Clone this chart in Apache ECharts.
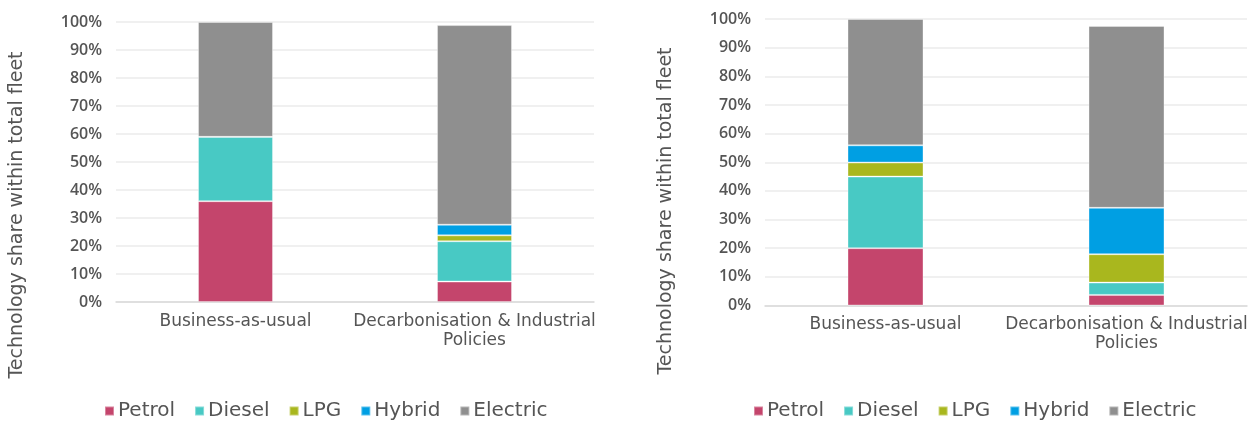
<!DOCTYPE html>
<html>
<head>
<meta charset="utf-8">
<script src="https://cdn.jsdelivr.net/npm/echarts@6/dist/echarts.min.js"></script>
<style>
  html, body { margin: 0; padding: 0; background: #ffffff; }
  #chart { width: 1252px; height: 421px; }
</style>
</head>
<body>
<div id="chart"></div>
<script>
// Fleet technology shares (% of total fleet) under two scenarios, shown for two periods
const categories = ['Business-as-usual', 'Decarbonisation & Industrial\nPolicies'];
const technologies = ['Petrol', 'Diesel', 'LPG', 'Hybrid', 'Electric'];
const colors = ['#C4456C', '#48C9C4', '#A9B71E', '#009FE3', '#8F8F8F'];
const yTicks = [0, 10, 20, 30, 40, 50, 60, 70, 80, 90, 100];

// Left panel values per technology: [Business-as-usual, Decarbonisation & Industrial Policies]
const leftPetrol = [36, 7.3];
const leftDiesel = [23, 14.4];
const leftLPG = [0, 2.1];
const leftHybrid = [0, 3.8];
const leftElectric = [41, 71.3];

// Right panel values per technology
const rightPetrol = [20, 3.7];
const rightDiesel = [25, 4.3];
const rightLPG = [4.9, 9.9];
const rightHybrid = [6, 16.2];
const rightElectric = [44.1, 63.5];

const leftValues = [leftPetrol, leftDiesel, leftLPG, leftHybrid, leftElectric];
const rightValues = [rightPetrol, rightDiesel, rightLPG, rightHybrid, rightElectric];

const FONT = '"DejaVu Sans", sans-serif';
const TICK_FONT = '"Open Sans", sans-serif';
const TEXT = '#555555';

function xAxisFor(gridIndex) {
  return {
    type: 'category',
    gridIndex: gridIndex,
    data: categories,
    axisTick: { show: false },
    axisLine: { lineStyle: { color: '#d9d9d9', width: 1.5 } },
    axisLabel: {
      color: TEXT, fontFamily: FONT, fontSize: 17,
      lineHeight: 19, margin: 10, interval: 0
    }
  };
}

function yAxisFor(gridIndex) {
  return {
    type: 'value',
    gridIndex: gridIndex,
    min: yTicks[0],
    max: yTicks[yTicks.length - 1],
    interval: yTicks[1] - yTicks[0],
    axisLine: { show: false },
    axisTick: { show: false },
    splitLine: { lineStyle: { color: '#ebebeb', width: 1.5 } },
    axisLabel: {
      color: TEXT, fontFamily: TICK_FONT, fontSize: 16, fontWeight: 600, margin: 14,
      formatter: '{value}%'
    }
  };
}

function seriesFor(values, gridIndex, barWidth) {
  return technologies.map((name, i) => ({
    name: name,
    type: 'bar',
    stack: 'panel' + gridIndex,
    xAxisIndex: gridIndex,
    yAxisIndex: gridIndex,
    barWidth: barWidth,
    data: values[i],
    itemStyle: { color: colors[i], borderColor: 'rgba(255,255,255,0.35)', borderWidth: 1 },
    emphasis: { disabled: true }
  }));
}

function legendFor(left) {
  return {
    left: left,
    top: 401,
    padding: 0,
    itemWidth: 9,
    itemHeight: 9,
    itemGap: 19,
    icon: 'rect',
    data: technologies,
    textStyle: {
      color: TEXT, fontFamily: FONT, fontSize: 20,
      lineHeight: 20, padding: [0, 0, 0, -1]
    }
  };
}

function axisTitle(x, y) {
  return {
    type: 'text',
    x: x,
    y: y,
    rotation: Math.PI / 2,
    style: {
      text: 'Technology share within total fleet',
      fill: TEXT,
      font: '19px ' + FONT,
      textAlign: 'center',
      textVerticalAlign: 'middle'
    }
  };
}

const chart = echarts.init(document.getElementById('chart'), null, { renderer: 'canvas' });
chart.setOption({
  animation: false,
  backgroundColor: '#ffffff',
  grid: [
    { left: 116, width: 478, top: 22, height: 280 },
    { left: 765, width: 482, top: 19, height: 286.5 }
  ],
  xAxis: [xAxisFor(0), xAxisFor(1)],
  yAxis: [yAxisFor(0), yAxisFor(1)],
  legend: [legendFor(104), legendFor(753)],
  graphic: [axisTitle(17, 215), axisTitle(666, 211)],
  series: seriesFor(leftValues, 0, 75).concat(seriesFor(rightValues, 1, 76))
});
</script>
</body>
</html>
